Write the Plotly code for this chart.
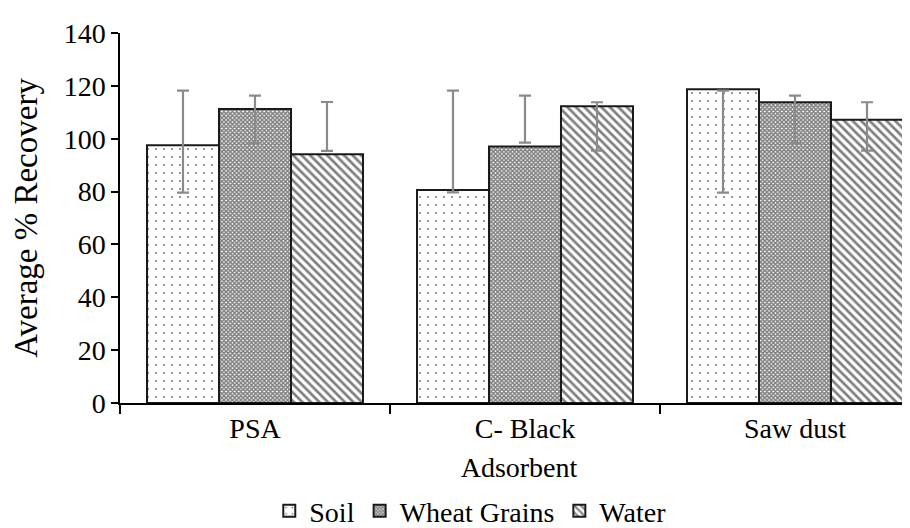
import plotly.graph_objects as go

categories = ["PSA", "C- Black", "Saw dust"]
series_names = ["Soil", "Wheat Grains", "Water"]
soil = [97.5, 80.6, 118.7]
wheat = [111.2, 97.1, 113.8]
water = [94.1, 112.3, 107.2]
# error bar ends (low, high)
soil_err_low = [79.6, 79.7, 79.6]
soil_err_high = [118.2, 118.2, 118.2]
wheat_err_low = [98.4, 98.5, 98.4]
wheat_err_high = [116.3, 116.3, 116.3]
water_err_low = [95.4, 95.5, 95.5]
water_err_high = [113.9, 113.8, 113.8]
y_ticks = [0, 20, 40, 60, 80, 100, 120, 140]

FONT = "Liberation Serif"

def errs(vals, lo, hi):
    return dict(type="data", symmetric=False,
                array=[h - v for v, h in zip(vals, hi)],
                arrayminus=[v - l for v, l in zip(vals, lo)],
                color="#8a8a8a", thickness=2.2, width=6)

patterns = [
    dict(shape=".", size=8, solidity=0.06, fgcolor="black", bgcolor="white", fillmode="overlay"),
    dict(shape="x", size=3, solidity=0.75, fgcolor="black", bgcolor="white", fillmode="overlay"),
    dict(shape="\\", size=6, solidity=0.45, fgcolor="black", bgcolor="white", fillmode="overlay"),
]

fig = go.Figure()
for name, vals, lo, hi, pat in [
    (series_names[0], soil, soil_err_low, soil_err_high, patterns[0]),
    (series_names[1], wheat, wheat_err_low, wheat_err_high, patterns[1]),
    (series_names[2], water, water_err_low, water_err_high, patterns[2]),
]:
    fig.add_trace(go.Bar(
        x=categories, y=vals, name=name,
        marker=dict(color="white", line=dict(color="#1a1a1a", width=2), pattern=pat),
        error_y=errs(vals, lo, hi),
    ))

fig.update_layout(
    width=910, height=528,
    paper_bgcolor="white", plot_bgcolor="white",
    margin=dict(l=112, r=0, t=25, b=133),
    barmode="group", bargap=0.2, bargroupgap=0,
    font=dict(family=FONT, size=28, color="black"),
    showlegend=True,
    legend=dict(orientation="h", xref="container", x=0.508, xanchor="center",
                yref="container", y=0.0, yanchor="bottom",
                font=dict(family=FONT, size=28), itemwidth=30, tracegroupgap=0),
    xaxis=dict(
        range=[-0.5, 2.4556], showline=True, linecolor="black", linewidth=1.5,
        ticks="outside", tickson="boundaries", ticklen=9, tickcolor="black", tickwidth=1.5,
        tickfont=dict(family=FONT, size=28),
        title=dict(text="Adsorbent", font=dict(family=FONT, size=28), standoff=14),
        showgrid=False, zeroline=False,
    ),
    yaxis=dict(
        range=[0, 140], tickvals=y_ticks, showline=True, linecolor="black", linewidth=1.5,
        ticks="outside", ticklen=7, tickcolor="black", tickwidth=1.5,
        tickfont=dict(family=FONT, size=28),
        title=dict(text="Average % Recovery", font=dict(family=FONT, size=33), standoff=20),
        showgrid=False, zeroline=False,
    ),
)
fig.write_html("out.html")
